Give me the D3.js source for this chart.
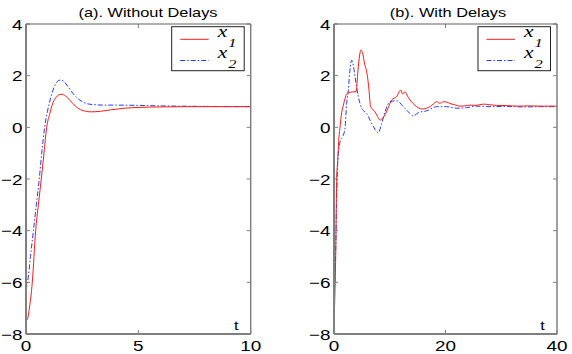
<!DOCTYPE html>
<html>
<head>
<meta charset="utf-8">
<script src="https://cdn.jsdelivr.net/npm/d3@7"></script>
<style>
  body { margin: 0; background: #ffffff; }
</style>
</head>
<body>
<div id="chart"></div>
<script>

// panel (a): without delays
let tA1 = [0, 0.05, 0.15, 0.28, 0.43, 0.55, 0.68, 0.8, 0.92, 1.05, 1.2, 1.35, 1.5, 1.6, 1.75, 1.95, 2.2, 2.5, 2.9, 3.3, 3.8, 4.4, 5, 6, 7, 8, 10];
let x1A = [-7.3, -7.45, -7.0, -6.0, -4.0, -3.0, -2.0, -1.0, 0, 0.5, 0.95, 1.17, 1.27, 1.28, 1.22, 1.05, 0.82, 0.66, 0.6, 0.62, 0.68, 0.74, 0.77, 0.79, 0.8, 0.8, 0.8];
let tA2 = [0, 0.1, 0.2, 0.33, 0.46, 0.59, 0.7, 0.83, 0.95, 1.1, 1.25, 1.4, 1.52, 1.65, 1.85, 2.1, 2.4, 2.7, 3.0, 3.5, 4, 5, 6, 8, 10];
let x2A = [-6.3, -5.8, -5.0, -4.0, -3.0, -2.0, -1.0, 0, 0.6, 1.15, 1.55, 1.78, 1.83, 1.8, 1.6, 1.3, 1.05, 0.92, 0.88, 0.86, 0.86, 0.85, 0.83, 0.81, 0.8];

// panel (b): with delays
let tB1 = [0, 0.3, 0.48, 0.66, 0.85, 1.08, 1.3, 1.67, 2.0, 2.27, 2.7, 3.3, 3.95, 4.3, 4.6, 4.84, 5.1, 5.5, 5.86, 6.1, 6.28, 6.45, 6.58, 7.0, 7.35, 7.8, 8.25, 8.7, 9.15, 9.8, 10.35, 11.24, 11.96, 12.32, 12.73, 13.2, 13.63, 14.2, 14.83, 15.5, 16.02, 16.6, 17.2, 17.8, 18.4, 19.0, 19.6, 20.2, 20.8, 21.6, 22.6, 23.5, 24.4, 25.5, 26.8, 28, 29.2, 31, 33, 35, 37, 40];
let x1B = [-7.5, -5.0, -2.0, -1.3, -0.5, 0, 0.45, 0.85, 1.12, 1.3, 1.35, 1.37, 1.38, 2.2, 2.8, 2.99, 2.9, 2.45, 2.15, 1.8, 1.44, 1.0, 0.8, 0.68, 0.6, 0.42, 0.28, 0.35, 0.48, 0.8, 1.06, 1.19, 1.44, 1.29, 1.38, 1.2, 1.06, 0.92, 0.8, 0.72, 0.71, 0.74, 0.8, 0.9, 0.99, 0.93, 0.99, 0.98, 0.92, 0.88, 0.82, 0.83, 0.86, 0.85, 0.9, 0.87, 0.85, 0.84, 0.82, 0.83, 0.82, 0.82];
let tB2 = [0, 0.3, 0.5, 0.66, 0.9, 1.2, 1.56, 1.97, 2.27, 2.57, 2.85, 3.17, 3.5, 3.77, 4.36, 4.96, 5.4, 5.86, 6.46, 6.9, 7.35, 7.95, 8.55, 9.15, 10.05, 11.24, 12.43, 13.33, 14.23, 15.13, 16.62, 18.4, 20.2, 22, 23.8, 25.6, 28, 31, 34, 37, 40];
let x2B = [-6.8, -4.8, -2.5, -1.4, -0.8, -0.49, -0.36, -0.04, 0.93, 1.44, 2.2, 2.6, 2.35, 1.96, 1.19, 0.74, 0.62, 0.54, 0.28, 0.1, -0.08, -0.21, 0.15, 0.6, 0.99, 1.03, 0.8, 0.6, 0.44, 0.57, 0.64, 0.8, 0.8, 0.74, 0.76, 0.82, 0.8, 0.81, 0.79, 0.8, 0.8];

let titles = ["(a). Without Delays", "(b). With Delays"];
let xTicksA = [0, 5, 10];
let xTicksB = [0, 20, 40];
let yTicks = [-8, -6, -4, -2, 0, 2, 4];
let legendLabels = ["1", "2"];

let width = 572;
let height = 354;
let sx = 1.26; // text in the reference is stretched sideways

let svg = d3.select("#chart").append("svg")
  .attr("width", width)
  .attr("height", height);

function drawPanel(opts) {

  let x = d3.scaleLinear().domain(opts.xDomain).range([opts.left, opts.right]);
  let y = d3.scaleLinear().domain([-8, 4]).range([334, 24]);
  let g = svg.append("g");

  let line = d3.line()
    .x(function(d) { return x(d[0]); })
    .y(function(d) { return y(d[1]); })
    .curve(d3.curveMonotoneX);

  let clipId = "clip" + opts.id;
  g.append("clipPath").attr("id", clipId)
    .append("rect")
    .attr("x", opts.left).attr("y", 24)
    .attr("width", opts.right - opts.left).attr("height", 310);

  g.append("path")
    .datum(d3.zip(opts.t2, opts.x2))
    .attr("d", line)
    .attr("fill", "none")
    .attr("stroke", "#1f3dff")
    .attr("stroke-width", 1)
    .attr("stroke-dasharray", "5,2,1.5,2")
    .attr("clip-path", "url(#" + clipId + ")");

  g.append("path")
    .datum(d3.zip(opts.t1, opts.x1))
    .attr("d", line)
    .attr("fill", "none")
    .attr("stroke", "#ff1a1a")
    .attr("stroke-width", 1)
    .attr("clip-path", "url(#" + clipId + ")");

  // ticks pointing inward on all four sides
  let tickLen = 4;
  let tickColor = "#808080";
  opts.xTicks.forEach(function(v) {
    g.append("line").attr("x1", x(v)).attr("x2", x(v)).attr("y1", 334).attr("y2", 334 - tickLen)
      .attr("stroke", tickColor);
    g.append("line").attr("x1", x(v)).attr("x2", x(v)).attr("y1", 24).attr("y2", 24 + tickLen)
      .attr("stroke", tickColor);
    appendText(g, x(v), 351, String(v), 15, "middle", "Liberation Sans", "normal");
  });
  yTicks.forEach(function(v) {
    g.append("line").attr("x1", opts.left).attr("x2", opts.left + tickLen).attr("y1", y(v)).attr("y2", y(v))
      .attr("stroke", tickColor);
    g.append("line").attr("x1", opts.right).attr("x2", opts.right - tickLen).attr("y1", y(v)).attr("y2", y(v))
      .attr("stroke", tickColor);
    let label = v < 0 ? "\u2212" + Math.abs(v) : String(v);
    appendText(g, opts.left - 3.5, y(v) + 5.5, label, 15, "end", "Liberation Sans", "normal");
  });

  // frame
  g.append("line").attr("x1", opts.left).attr("x2", opts.right).attr("y1", 24).attr("y2", 24)
    .attr("stroke", "#606060").attr("stroke-width", 1);
  g.append("line").attr("x1", opts.right).attr("x2", opts.right).attr("y1", 24).attr("y2", 334)
    .attr("stroke", "#808080").attr("stroke-width", 1.5);
  g.append("line").attr("x1", opts.left).attr("x2", opts.right).attr("y1", 334).attr("y2", 334)
    .attr("stroke", "#808080").attr("stroke-width", 2);
  g.append("line").attr("x1", opts.left).attr("x2", opts.left).attr("y1", 24).attr("y2", 334)
    .attr("stroke", "#808080").attr("stroke-width", 2);

  // title and t label
  appendText(g, opts.titleX, 16.5, opts.title, 13, "middle", "Liberation Sans", "normal");
  appendText(g, opts.right - 14.5, 330, "t", 13, "middle", "Liberation Sans", "normal");

  // legend
  let lx = opts.right - 79;
  g.append("rect")
    .attr("x", lx).attr("y", 26.7)
    .attr("width", 72.5).attr("height", 44)
    .attr("fill", "#ffffff")
    .attr("stroke", "#222222")
    .attr("stroke-width", 1);

  let legendRows = [
    {y: 39.3, color: "#ff1a1a", dash: null},
    {y: 60.5, color: "#1f3dff", dash: "5,2,1.5,2"}
  ];
  legendRows.forEach(function(r, i) {
    g.append("line")
      .attr("x1", lx + 8.5).attr("x2", lx + 37)
      .attr("y1", r.y).attr("y2", r.y)
      .attr("stroke", r.color)
      .attr("stroke-width", 1)
      .attr("stroke-dasharray", r.dash);
    appendText(g, lx + 46, r.y - 2.3, "x", 17, "start", "Liberation Serif", "italic");
    appendText(g, lx + 56.5, r.y + 7.8, legendLabels[i], 13, "start", "Liberation Serif", "italic");
  });
}

function appendText(parent, tx, ty, str, size, anchor, family, style) {
  return parent.append("text")
    .attr("transform", "translate(" + tx + "," + ty + ") scale(" + sx + ",1)")
    .attr("text-anchor", anchor)
    .attr("font-family", family)
    .attr("font-style", style)
    .attr("font-size", size)
    .attr("fill", "#000000")
    .text(str);
}

drawPanel({
  id: "a", left: 26, right: 250.7, xDomain: [0, 10], xTicks: xTicksA,
  t1: tA1, x1: x1A, t2: tA2, x2: x2A, title: titles[0], titleX: 148
});

drawPanel({
  id: "b", left: 334, right: 557, xDomain: [0, 40], xTicks: xTicksB,
  t1: tB1, x1: x1B, t2: tB2, x2: x2B, title: titles[1], titleX: 448
});

</script>
</body>
</html>
